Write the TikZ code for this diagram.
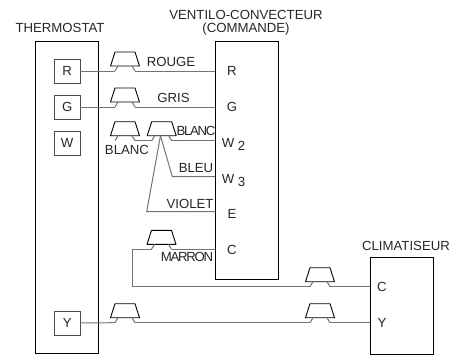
\documentclass[tikz,border=0pt]{standalone}
\usepackage{fontspec}
\setmainfont{Liberation Sans}
\newfontfamily\tightfont[LetterSpace=-10]{Liberation Sans}
\tikzset{
  unitbox/.style={draw=black,line width=0.8pt,inner sep=0pt,outer sep=0pt},
  termbox/.style={draw=black!70,line width=0.7pt,minimum width=25.7pt,minimum height=24.3pt,inner sep=0pt,outer sep=0pt,text=black!85},
  termtext/.style={inner sep=0pt,text=black!85},
  wire/.style={draw=black!55,line width=1pt},
  plugbody/.style={draw=black,line width=0.9pt,line join=round},
  lbl/.style={inner sep=0pt,font=\fontsize{13.2}{15}\selectfont,text=black!85},
  tightlbl/.style={inner sep=0pt,font=\fontsize{13.2}{15}\tightfont,text=black!85}
}
% #1 name, #2 centre x, #3 wire y
\newcommand{\plug}[3]{
  \draw[plugbody] (#2-10,#3-19) -- (#2+10,#3-19) -- (#2+14.5,#3-5) -- (#2-14.5,#3-5) -- cycle;
  \coordinate (#1l) at (#2-10,#3);
  \coordinate (#1r) at (#2+10,#3);
  \coordinate (#1a) at (#2-7,#3-5);
  \coordinate (#1b) at (#2+7,#3-5);
  \draw[wire] (#1l) -- (#1a);
  \draw[wire] (#1b) -- (#1r);
}
\begin{document}
\begin{tikzpicture}[x=1pt,y=-1pt,font=\fontsize{13.2}{15}\selectfont]
  \useasboundingbox (0,0) rectangle (456,356);
  \node[unitbox,minimum width=62.8pt,minimum height=312pt] (thermostat) at (67.2,197) {};
  \node[unitbox,minimum width=63pt,minimum height=238pt] (ventilo) at (246.5,160) {};
  \node[unitbox,minimum width=63pt,minimum height=97pt] (clim) at (401.5,305.5) {};
  \node[termbox] (tR) at (67.2,71) {R};
  \node[termbox] (tG) at (67.2,107) {G};
  \node[termbox] (tW) at (67.2,143) {W};
  \node[termbox] (tY) at (67.2,323) {Y};
  \node[termtext] (vR) at (232,71) {R};
  \node[termtext] (vG) at (232,107) {G};
  \node[termtext] (vW) at (228,143) {W};
  \node[termtext] (vWa) at (241.5,146) {2};
  \node[termtext] (vX) at (228,179) {W};
  \node[termtext] (vXa) at (241.5,182) {3};
  \node[termtext] (vE) at (232,214) {E};
  \node[termtext] (vC) at (232,250) {C};
  \node[termtext] (cC) at (382,287) {C};
  \node[termtext] (cY) at (382,323) {Y};
  \node[lbl] (lT) at (60,28) {THERMOSTAT};
  \node[lbl] (lV) at (246,14.5) {VENTILO-CONVECTEUR};
  \node[lbl] (lC) at (246,29) {(COMMANDE)};
  \node[lbl] (lD) at (406,245.5) {CLIMATISEUR};
  \node[lbl] (lRouge) at (171,62) {ROUGE};
  \node[lbl] (lGris) at (173.5,98) {GRIS};
  \node[lbl] (lBlancA) at (127,150) {BLANC};
  \node[tightlbl] (lBlancB) at (196,131) {BLANC};
  \node[lbl] (lBleu) at (196,168) {BLEU};
  \node[lbl] (lViolet) at (190,204) {VIOLET};
  \node[tightlbl] (lMarron) at (187,257) {MARRON};
  \plug{pR}{125}{71}
  \plug{pG}{125}{107}
  \plug{pA}{125}{140.7}
  \plug{pB}{161.7}{140.7}
  \plug{pM}{161.5}{249.3}
  \plug{pC}{320}{286.7}
  \plug{pY}{125}{322.7}
  \plug{pZ}{320}{322.7}
  \coordinate (fan) at (160.5,135.7);
  \coordinate (bleu) at (172.3,176.7);
  \coordinate (violet) at (146.7,211.7);
  \coordinate (mc) at (132.7,249.3);
  \coordinate (cc) at (132.7,286.7);
  \begin{scope}[wire]
    \draw (tR) -- (pRl);
    \draw (pRr) -- (ventilo.west |- pRr);
    \draw (tG) -- (pGl);
    \draw (pGr) -- (ventilo.west |- pGr);
    \draw (pAr) -- (pBl);
    \draw (pBr) -- (ventilo.west |- pBr);
    \draw (fan) -- (bleu) -- (ventilo.west |- bleu);
    \draw (fan) -- (violet) -- (ventilo.west |- violet);
    \draw (pMr) -- (ventilo.west |- pMr);
    \draw (pMl) -- (mc) -- (cc) -- (pCl);
    \draw (pCr) -- (clim.west |- pCr);
    \draw (tY) -- (pYl);
    \draw (pYr) -- (pZl);
    \draw (pZr) -- (clim.west |- pZr);
  \end{scope}
\end{tikzpicture}
\end{document}
